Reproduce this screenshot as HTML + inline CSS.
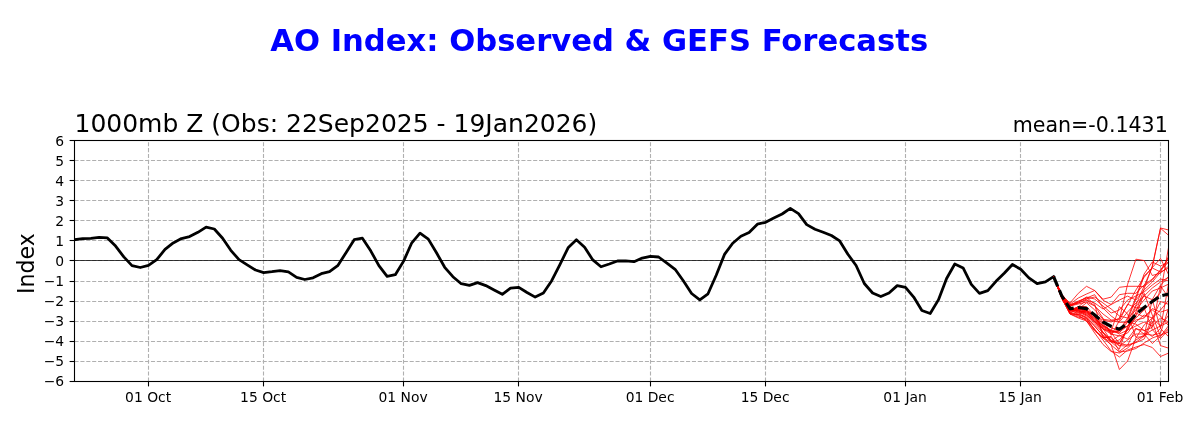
<!DOCTYPE html>
<html lang="en"><head><meta charset="utf-8"><title>AO Index: Observed &amp; GEFS Forecasts</title>
<style>
html,body{margin:0;padding:0;background:#fff}
svg{display:block}
text{font-family:"DejaVu Sans","Liberation Sans",sans-serif;fill:#000}
.tk{font-size:13.89px}
</style></head><body>
<svg width="1200" height="430" viewBox="0 0 1200 430">
<rect width="1200" height="430" fill="#fff"/>
<defs><clipPath id="ax"><rect x="74.5" y="140.5" width="1094" height="241"/></clipPath></defs>

<g stroke="#b0b0b0" stroke-width="1.1" stroke-dasharray="4.1 1.78" fill="none">
<path d="M74.5,160.5 H1168.5"/>
<path d="M74.5,180.5 H1168.5"/>
<path d="M74.5,200.5 H1168.5"/>
<path d="M74.5,220.5 H1168.5"/>
<path d="M74.5,240.5 H1168.5"/>
<path d="M74.5,260.5 H1168.5"/>
<path d="M74.5,281.5 H1168.5"/>
<path d="M74.5,301.5 H1168.5"/>
<path d="M74.5,321.5 H1168.5"/>
<path d="M74.5,341.5 H1168.5"/>
<path d="M74.5,361.5 H1168.5"/>
<path d="M148.5,381.5 V140.5"/>
<path d="M263.5,381.5 V140.5"/>
<path d="M403.5,381.5 V140.5"/>
<path d="M518.5,381.5 V140.5"/>
<path d="M650.5,381.5 V140.5"/>
<path d="M765.5,381.5 V140.5"/>
<path d="M905.5,381.5 V140.5"/>
<path d="M1020.5,381.5 V140.5"/>
<path d="M1160.5,381.5 V140.5"/>
</g>
<path d="M74.5,260.5 H1168.5" stroke="#000" stroke-width="0.75" fill="none"/>
<g clip-path="url(#ax)" fill="none" stroke-linejoin="round">
<path d="M74.5,239.7 L82.7,238.6 L90.9,238.4 L99.1,237.3 L107.4,237.9 L115.6,246.1 L123.8,256.9 L132.0,265.6 L140.3,267.5 L148.5,265.4 L156.7,259.7 L165.0,249.4 L173.2,242.9 L181.4,238.6 L189.6,236.6 L197.9,232.3 L206.1,227.1 L214.3,229.0 L222.6,238.3 L230.8,250.3 L239.0,259.7 L247.2,264.9 L255.5,270.0 L263.7,272.6 L271.9,271.7 L280.1,270.6 L288.4,271.9 L296.6,277.3 L304.8,279.5 L313.1,277.8 L321.3,273.7 L329.5,271.7 L337.7,265.7 L346.0,252.7 L354.2,239.7 L362.4,238.2 L370.7,250.8 L378.9,265.7 L387.1,276.3 L395.3,274.7 L403.6,261.1 L411.8,242.8 L420.0,233.2 L428.3,239.1 L436.5,252.8 L444.7,267.3 L452.9,276.7 L461.2,283.7 L469.4,285.4 L477.6,282.6 L485.8,285.6 L494.1,290.0 L502.3,294.3 L510.5,288.2 L518.8,287.3 L527.0,292.5 L535.2,297.1 L543.4,293.0 L551.7,280.7 L559.9,264.6 L568.1,247.8 L576.4,239.8 L584.6,247.3 L592.8,259.9 L601.0,266.8 L609.3,264.0 L617.5,261.0 L625.7,260.9 L634.0,261.7 L642.2,258.1 L650.4,256.3 L658.6,257.0 L666.9,263.1 L675.1,269.3 L683.3,280.8 L691.6,293.5 L699.8,299.8 L708.0,293.8 L716.2,275.2 L724.5,254.4 L732.7,243.2 L740.9,236.3 L749.1,232.6 L757.4,224.2 L765.6,222.3 L773.8,218.0 L782.1,214.0 L790.3,208.4 L798.5,213.6 L806.7,224.6 L815.0,229.2 L823.2,232.2 L831.4,235.5 L839.7,240.9 L847.9,254.3 L856.1,265.5 L864.3,283.5 L872.6,293.0 L880.8,296.5 L889.0,293.0 L897.2,285.6 L905.5,287.4 L913.7,297.1 L921.9,310.5 L930.2,313.5 L938.4,299.9 L946.6,278.5 L954.8,264.0 L963.1,267.9 L971.3,284.4 L979.5,293.4 L987.8,290.6 L996.0,281.3 L1004.2,273.3 L1012.4,264.5 L1020.7,269.2 L1028.9,277.9 L1037.1,283.7 L1045.4,281.8 L1053.6,276.6" stroke="#000" stroke-width="2.78" stroke-linecap="square"/>
<g stroke="#ff0000" stroke-width="0.8">
<path d="M1053.6,276.6 L1061.8,295.0 L1070.0,303.0 L1078.3,293.3 L1086.5,286.3 L1094.7,290.5 L1103.0,299.2 L1111.2,297.1 L1119.4,287.3 L1127.6,286.3 L1135.9,286.3 L1144.1,286.5 L1152.3,280.0 L1160.5,270.0 L1168.8,262.0"/>
<path d="M1053.6,276.6 L1061.8,295.5 L1070.0,304.0 L1078.3,298.0 L1086.5,294.0 L1094.7,290.5 L1103.0,300.3 L1111.2,304.5 L1119.4,300.0 L1127.6,296.1 L1135.9,300.0 L1144.1,290.0 L1152.3,282.0 L1160.5,272.0 L1168.8,268.0"/>
<path d="M1053.6,276.6 L1061.8,296.0 L1070.0,305.0 L1078.3,303.0 L1086.5,300.0 L1094.7,303.0 L1103.0,309.0 L1111.2,304.5 L1119.4,294.7 L1127.6,293.3 L1135.9,293.3 L1144.1,285.0 L1152.3,279.0 L1160.5,270.0 L1168.8,258.0"/>
<path d="M1053.6,276.6 L1061.8,296.0 L1070.0,306.0 L1078.3,304.0 L1086.5,302.0 L1094.7,306.0 L1103.0,314.0 L1111.2,320.0 L1119.4,319.4 L1127.6,284.3 L1135.9,259.2 L1144.1,260.5 L1152.3,275.5 L1160.5,273.0 L1168.8,266.0"/>
<path d="M1053.6,276.6 L1061.8,297.0 L1070.0,308.0 L1078.3,309.0 L1086.5,311.0 L1094.7,316.0 L1103.0,320.0 L1111.2,322.0 L1119.4,318.0 L1127.6,305.0 L1135.9,290.0 L1144.1,277.3 L1152.3,267.6 L1160.5,258.4 L1168.8,275.0"/>
<path d="M1053.6,276.6 L1061.8,297.0 L1070.0,310.0 L1078.3,312.0 L1086.5,316.0 L1094.7,324.0 L1103.0,333.0 L1111.2,342.0 L1119.4,340.0 L1127.6,330.0 L1135.9,312.0 L1144.1,289.0 L1152.3,266.0 L1160.5,228.0 L1168.8,230.0"/>
<path d="M1053.6,276.6 L1061.8,297.0 L1070.0,309.0 L1078.3,308.0 L1086.5,311.0 L1094.7,318.0 L1103.0,326.0 L1111.2,331.0 L1119.4,333.0 L1127.6,322.0 L1135.9,305.0 L1144.1,286.0 L1152.3,267.0 L1160.5,228.3 L1168.8,235.5"/>
<path d="M1053.6,276.6 L1061.8,296.0 L1070.0,305.0 L1078.3,301.0 L1086.5,298.0 L1094.7,294.7 L1103.0,308.0 L1111.2,316.0 L1119.4,322.0 L1127.6,312.0 L1135.9,303.0 L1144.1,296.0 L1152.3,288.0 L1160.5,282.0 L1168.8,277.0"/>
<path d="M1053.6,276.6 L1061.8,296.0 L1070.0,306.0 L1078.3,302.0 L1086.5,297.0 L1094.7,299.0 L1103.0,306.0 L1111.2,313.0 L1119.4,310.0 L1127.6,300.0 L1135.9,296.0 L1144.1,292.0 L1152.3,285.0 L1160.5,279.0 L1168.8,281.0"/>
<path d="M1053.6,276.6 L1061.8,296.5 L1070.0,306.0 L1078.3,303.0 L1086.5,299.0 L1094.7,297.0 L1103.0,303.0 L1111.2,309.0 L1119.4,316.0 L1127.6,318.0 L1135.9,310.0 L1144.1,300.0 L1152.3,291.0 L1160.5,288.0 L1168.8,284.0"/>
<path d="M1053.6,276.6 L1061.8,296.5 L1070.0,308.0 L1078.3,309.0 L1086.5,310.0 L1094.7,315.0 L1103.0,322.0 L1111.2,328.0 L1119.4,330.0 L1127.6,326.0 L1135.9,318.0 L1144.1,310.0 L1152.3,301.0 L1160.5,293.0 L1168.8,246.0"/>
<path d="M1053.6,276.6 L1061.8,297.0 L1070.0,309.0 L1078.3,311.0 L1086.5,313.0 L1094.7,320.0 L1103.0,327.0 L1111.2,332.0 L1119.4,330.0 L1127.6,318.0 L1135.9,297.0 L1144.1,274.0 L1152.3,262.0 L1160.5,266.0 L1168.8,262.0"/>
<path d="M1053.6,276.6 L1061.8,297.0 L1070.0,309.0 L1078.3,310.0 L1086.5,314.0 L1094.7,321.0 L1103.0,328.0 L1111.2,333.0 L1119.4,331.0 L1127.6,320.0 L1135.9,299.0 L1144.1,276.0 L1152.3,268.0 L1160.5,272.0 L1168.8,256.0"/>
<path d="M1053.6,276.6 L1061.8,297.0 L1070.0,309.0 L1078.3,310.0 L1086.5,313.0 L1094.7,319.0 L1103.0,326.0 L1111.2,330.0 L1119.4,334.0 L1127.6,330.0 L1135.9,326.0 L1144.1,322.0 L1152.3,326.0 L1160.5,318.0 L1168.8,322.0"/>
<path d="M1053.6,276.6 L1061.8,297.0 L1070.0,310.0 L1078.3,311.0 L1086.5,315.0 L1094.7,322.0 L1103.0,329.0 L1111.2,334.0 L1119.4,336.0 L1127.6,333.0 L1135.9,322.0 L1144.1,315.0 L1152.3,318.0 L1160.5,326.0 L1168.8,315.0"/>
<path d="M1053.6,276.6 L1061.8,296.5 L1070.0,308.0 L1078.3,309.0 L1086.5,312.0 L1094.7,318.0 L1103.0,325.0 L1111.2,331.0 L1119.4,332.0 L1127.6,326.0 L1135.9,320.0 L1144.1,318.0 L1152.3,310.0 L1160.5,316.0 L1168.8,326.0"/>
<path d="M1053.6,276.6 L1061.8,298.0 L1070.0,312.0 L1078.3,315.0 L1086.5,321.0 L1094.7,331.0 L1103.0,338.0 L1111.2,344.7 L1119.4,369.5 L1127.6,361.0 L1135.9,338.0 L1144.1,325.0 L1152.3,318.0 L1160.5,310.0 L1168.8,300.0"/>
<path d="M1053.6,276.6 L1061.8,298.0 L1070.0,313.0 L1078.3,316.0 L1086.5,320.0 L1094.7,329.0 L1103.0,340.0 L1111.2,351.0 L1119.4,357.0 L1127.6,350.0 L1135.9,347.0 L1144.1,344.5 L1152.3,347.5 L1160.5,356.5 L1168.8,353.0"/>
<path d="M1053.6,276.6 L1061.8,297.0 L1070.0,311.0 L1078.3,313.0 L1086.5,318.0 L1094.7,326.0 L1103.0,336.0 L1111.2,345.0 L1119.4,352.0 L1127.6,351.0 L1135.9,348.5 L1144.1,343.0 L1152.3,338.0 L1160.5,335.0 L1168.8,332.0"/>
<path d="M1053.6,276.6 L1061.8,297.0 L1070.0,310.0 L1078.3,311.0 L1086.5,315.0 L1094.7,322.0 L1103.0,332.0 L1111.2,340.0 L1119.4,346.0 L1127.6,340.0 L1135.9,334.0 L1144.1,334.0 L1152.3,343.5 L1160.5,336.0 L1168.8,328.0"/>
<path d="M1053.6,276.6 L1061.8,298.0 L1070.0,314.0 L1078.3,318.0 L1086.5,321.0 L1094.7,333.0 L1103.0,344.5 L1111.2,351.5 L1119.4,353.0 L1127.6,348.0 L1135.9,340.0 L1144.1,335.0 L1152.3,330.0 L1160.5,326.0 L1168.8,322.0"/>
<path d="M1053.6,276.6 L1061.8,295.0 L1070.0,310.1 L1078.3,306.8 L1086.5,300.2 L1094.7,305.6 L1103.0,318.3 L1111.2,335.3 L1119.4,320.6 L1127.6,304.2 L1135.9,307.8 L1144.1,307.8 L1152.3,329.6 L1160.5,338.5 L1168.8,329.5"/>
<path d="M1053.6,276.6 L1061.8,298.5 L1070.0,312.6 L1078.3,309.1 L1086.5,302.8 L1094.7,309.9 L1103.0,319.2 L1111.2,320.5 L1119.4,322.3 L1127.6,322.2 L1135.9,324.1 L1144.1,330.6 L1152.3,327.4 L1160.5,286.0 L1168.8,297.8"/>
<path d="M1053.6,276.6 L1061.8,294.1 L1070.0,304.7 L1078.3,301.9 L1086.5,297.7 L1094.7,303.9 L1103.0,338.0 L1111.2,342.0 L1119.4,349.0 L1127.6,326.3 L1135.9,312.9 L1144.1,317.2 L1152.3,308.6 L1160.5,312.1 L1168.8,309.4"/>
<path d="M1053.6,276.6 L1061.8,295.5 L1070.0,306.4 L1078.3,312.6 L1086.5,310.4 L1094.7,321.8 L1103.0,328.5 L1111.2,341.0 L1119.4,335.4 L1127.6,339.2 L1135.9,328.1 L1144.1,334.0 L1152.3,335.2 L1160.5,333.2 L1168.8,307.5"/>
<path d="M1053.6,276.6 L1061.8,297.6 L1070.0,314.0 L1078.3,314.2 L1086.5,317.1 L1094.7,326.3 L1103.0,335.3 L1111.2,340.7 L1119.4,343.4 L1127.6,327.9 L1135.9,306.2 L1144.1,296.1 L1152.3,299.7 L1160.5,328.6 L1168.8,336.9"/>
<path d="M1053.6,276.6 L1061.8,298.1 L1070.0,313.5 L1078.3,314.7 L1086.5,318.1 L1094.7,329.8 L1103.0,337.7 L1111.2,336.4 L1119.4,351.5 L1127.6,344.8 L1135.9,342.6 L1144.1,339.1 L1152.3,321.6 L1160.5,345.6 L1168.8,348.2"/>
<path d="M1053.6,276.6 L1061.8,297.3 L1070.0,311.1 L1078.3,306.5 L1086.5,306.5 L1094.7,316.1 L1103.0,332.8 L1111.2,342.1 L1119.4,343.7 L1127.6,345.1 L1135.9,329.0 L1144.1,330.2 L1152.3,336.6 L1160.5,328.4 L1168.8,282.7"/>
<path d="M1053.6,276.6 L1061.8,295.2 L1070.0,309.0 L1078.3,314.5 L1086.5,309.9 L1094.7,316.2 L1103.0,329.3 L1111.2,331.1 L1119.4,306.7 L1127.6,313.9 L1135.9,337.3 L1144.1,336.6 L1152.3,318.4 L1160.5,301.5 L1168.8,304.4"/>
<path d="M1053.6,276.6 L1061.8,298.7 L1070.0,313.8 L1078.3,317.2 L1086.5,318.8 L1094.7,330.2 L1103.0,337.3 L1111.2,337.7 L1119.4,345.6 L1127.6,346.1 L1135.9,342.3 L1144.1,336.0 L1152.3,299.5 L1160.5,285.2 L1168.8,276.6"/>
<path d="M1053.6,276.6 L1061.8,296.2 L1070.0,308.1 L1078.3,310.5 L1086.5,311.8 L1094.7,315.5 L1103.0,323.6 L1111.2,332.6 L1119.4,343.6 L1127.6,329.7 L1135.9,316.3 L1144.1,293.3 L1152.3,315.1 L1160.5,336.3 L1168.8,325.4"/>
</g>
<path d="M1053.6,276.6 L1061.8,296.0 L1070.0,308.7 L1078.3,307.5 L1086.5,308.6 L1094.7,315.0 L1103.0,322.0 L1111.2,326.3 L1119.4,329.2 L1127.6,323.5 L1135.9,314.3 L1144.1,307.5 L1152.3,301.5 L1160.5,296.0 L1168.8,294.0" stroke="#000" stroke-width="3.2" stroke-dasharray="10.5 4.2"/>
</g>
<rect x="74.5" y="140.5" width="1094" height="241" fill="none" stroke="#000" stroke-width="1.1"/>
<g stroke="#000" stroke-width="1.1">
<path d="M69.6,160.5 H74.5"/>
<path d="M69.6,180.5 H74.5"/>
<path d="M69.6,200.5 H74.5"/>
<path d="M69.6,220.5 H74.5"/>
<path d="M69.6,240.5 H74.5"/>
<path d="M69.6,260.5 H74.5"/>
<path d="M69.6,281.5 H74.5"/>
<path d="M69.6,301.5 H74.5"/>
<path d="M69.6,321.5 H74.5"/>
<path d="M69.6,341.5 H74.5"/>
<path d="M69.6,361.5 H74.5"/>
<path d="M69.6,140.5 H74.5"/>
<path d="M69.6,381.5 H74.5"/>
<path d="M148.5,381.5 V386.4"/>
<path d="M263.5,381.5 V386.4"/>
<path d="M403.5,381.5 V386.4"/>
<path d="M518.5,381.5 V386.4"/>
<path d="M650.5,381.5 V386.4"/>
<path d="M765.5,381.5 V386.4"/>
<path d="M905.5,381.5 V386.4"/>
<path d="M1020.5,381.5 V386.4"/>
<path d="M1160.5,381.5 V386.4"/>
</g>
<g class="tk" text-anchor="end">
<text x="64.1" y="145.5">6</text>
<text x="64.1" y="165.5">5</text>
<text x="64.1" y="185.6">4</text>
<text x="64.1" y="205.6">3</text>
<text x="64.1" y="225.7">2</text>
<text x="64.1" y="245.8">1</text>
<text x="64.1" y="265.8">0</text>
<text x="64.1" y="285.9">−1</text>
<text x="64.1" y="305.9">−2</text>
<text x="64.1" y="326.0">−3</text>
<text x="64.1" y="346.1">−4</text>
<text x="64.1" y="366.1">−5</text>
<text x="64.1" y="386.2">−6</text>
</g>
<g class="tk" text-anchor="middle">
<text x="148.1" y="401.8">01 Oct</text>
<text x="263.1" y="401.8">15 Oct</text>
<text x="403.1" y="401.8">01 Nov</text>
<text x="518.1" y="401.8">15 Nov</text>
<text x="650.1" y="401.8">01 Dec</text>
<text x="765.1" y="401.8">15 Dec</text>
<text x="905.1" y="401.8">01 Jan</text>
<text x="1020.1" y="401.8">15 Jan</text>
<text x="1160.1" y="401.8">01 Feb</text>
</g>
<text transform="translate(34.4,263.7) rotate(-90)" text-anchor="middle" font-size="22.1px">Index</text>
<text x="74.5" y="132" font-size="25px">1000mb Z (Obs: 22Sep2025 - 19Jan2026)</text>
<text x="1167.8" y="132" font-size="20.58px" text-anchor="end">mean=-0.1431</text>
<text x="599.2" y="51" font-size="30.64px" font-weight="bold" text-anchor="middle" style="fill:#0000ff">AO Index: Observed &amp; GEFS Forecasts</text>
</svg></body></html>
